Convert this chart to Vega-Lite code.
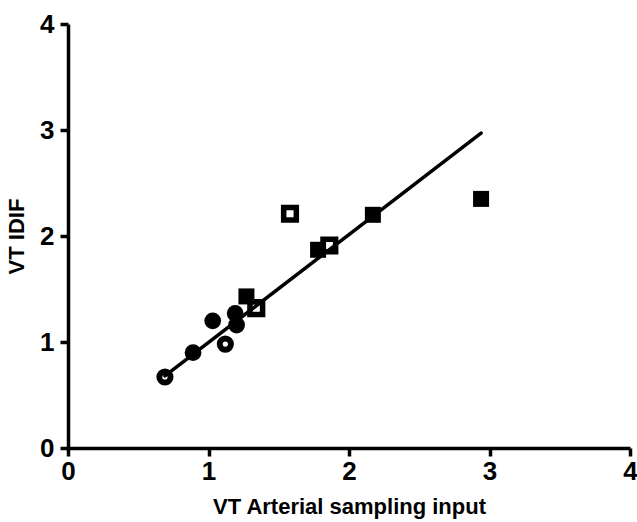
{
  "$schema": "https://vega.github.io/schema/vega-lite/v6.json",
  "width": 562,
  "height": 424,
  "autosize": "none",
  "padding": {"left": 68, "top": 24, "right": 7, "bottom": 74},
  "background": "white",
  "config": {
    "view": {"stroke": null},
    "font": "Liberation Sans",
    "axis": {
      "grid": false,
      "domainColor": "black",
      "domainWidth": 3.5,
      "tickColor": "black",
      "tickWidth": 3.5,
      "tickSize": 8,
      "labelFont": "Liberation Sans",
      "labelFontWeight": "bold",
      "labelFontSize": 26,
      "labelColor": "black",
      "titleFont": "Liberation Sans",
      "titleFontWeight": "bold",
      "titleFontSize": 22,
      "titleColor": "black"
    }
  },
  "datasets": {
    "pts": [
      {"x": 0.69, "y": 0.67, "kind": "open circle"},
      {"x": 1.12, "y": 0.98, "kind": "open circle"},
      {"x": 0.89, "y": 0.90, "kind": "filled circle"},
      {"x": 1.03, "y": 1.20, "kind": "filled circle"},
      {"x": 1.19, "y": 1.27, "kind": "filled circle"},
      {"x": 1.20, "y": 1.16, "kind": "filled circle"},
      {"x": 1.27, "y": 1.43, "kind": "filled square"},
      {"x": 1.78, "y": 1.87, "kind": "filled square"},
      {"x": 2.17, "y": 2.20, "kind": "filled square"},
      {"x": 2.94, "y": 2.35, "kind": "filled square"},
      {"x": 1.34, "y": 1.32, "kind": "open square"},
      {"x": 1.58, "y": 2.21, "kind": "open square"},
      {"x": 1.86, "y": 1.91, "kind": "open square"}
    ],
    "fit": [
      {"x": 0.69, "y": 0.68},
      {"x": 2.94, "y": 2.97}
    ]
  },
  "encoding": {
    "x": {
      "field": "x", "type": "quantitative",
      "scale": {"domain": [0, 4], "nice": false, "zero": true},
      "axis": {"values": [0, 1, 2, 3, 4], "format": "d", "title": "VT Arterial sampling input", "labelPadding": 2, "titlePadding": 12, "labelFlush": false}
    },
    "y": {
      "field": "y", "type": "quantitative",
      "scale": {"domain": [0, 4], "nice": false, "zero": true},
      "axis": {"values": [0, 1, 2, 3, 4], "format": "d", "title": "VT IDIF", "labelPadding": 6, "titlePadding": 11, "labelFlush": false}
    }
  },
  "layer": [
    {
      "data": {"name": "fit"},
      "mark": {"type": "line", "color": "black", "strokeWidth": 3.5, "strokeCap": "round"}
    },
    {
      "data": {"name": "pts"},
      "transform": [{"filter": "datum.kind === 'filled circle'"}],
      "mark": {"type": "point", "shape": "circle", "filled": true, "fill": "black", "strokeWidth": 0, "size": 280, "opacity": 1}
    },
    {
      "data": {"name": "pts"},
      "transform": [{"filter": "datum.kind === 'open circle'"}],
      "mark": {"type": "point", "shape": "circle", "filled": false, "stroke": "black", "strokeWidth": 6, "size": 125, "opacity": 1}
    },
    {
      "data": {"name": "pts"},
      "transform": [{"filter": "datum.kind === 'filled square'"}],
      "mark": {"type": "point", "shape": "square", "filled": true, "fill": "black", "strokeWidth": 0, "size": 256, "opacity": 1}
    },
    {
      "data": {"name": "pts"},
      "transform": [{"filter": "datum.kind === 'open square'"}],
      "mark": {"type": "point", "shape": "square", "filled": false, "stroke": "black", "strokeWidth": 5.5, "size": 160, "opacity": 1}
    }
  ]
}
